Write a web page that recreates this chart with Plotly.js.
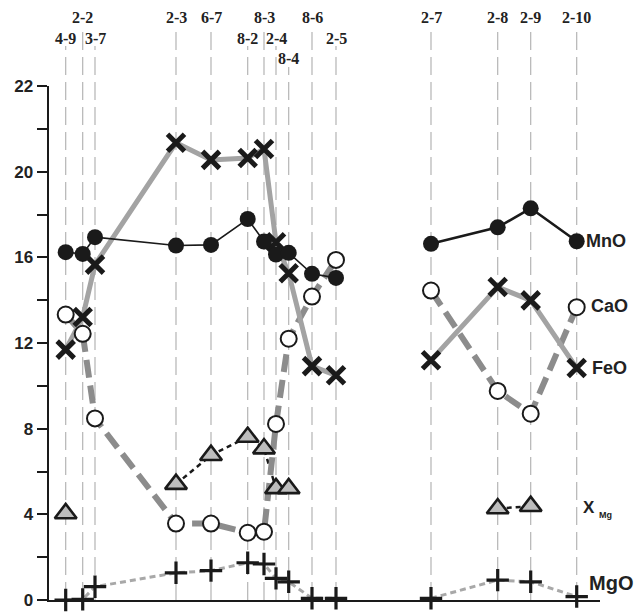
<!DOCTYPE html>
<html>
<head>
<meta charset="utf-8">
<script src="https://cdn.plot.ly/plotly-3.0.1.min.js"></script>
<style>html,body{margin:0;padding:0;background:#fff;}#chart{width:641px;height:612px;}</style>
</head>
<body>
<div id="chart"></div>
<script>
// ---- data ----
const samples   = ['4-9','2-2','3-7','2-3','6-7','8-2','8-3','2-4','8-4','8-6','2-5','2-7','2-8','2-9','2-10'];
const position  = [16.7, 33.7, 46, 127, 162, 198.7, 215, 227, 239.7, 263, 287, 382, 448.7, 481.7, 527.7];
const segment   = [1,1,1,1,1,1,1,1,1,1,1,2,2,2,2];
const labelRow  = [1,0,1,0,0,1,0,1,2,0,1,0,0,0,0];
const mnO = [16.24,16.16,16.94,16.55,16.58,17.79,16.74,16.13,16.21,15.23,15.04,16.63,17.40,18.29,16.75];
const feO = [11.69,13.21,15.66,21.35,20.55,20.64,21.06,16.70,15.26,10.92,10.49,11.19,14.61,13.99,10.83];
const caO = [13.33,12.43,8.48,3.57,3.57,3.14,3.19,8.22,12.20,14.17,15.88,14.45,9.76,8.70,13.67];
const xMg = [4.04,null,null,5.41,6.76,7.61,7.07,5.21,5.21,null,null,null,4.27,4.38,null];
const mgO = [0.00,0.03,0.62,1.27,1.37,1.74,1.68,1.01,0.85,0.08,0.08,0.08,0.93,0.85,0.16];
const yTickVals = [0,2,4,6,8,10,12,14,16,18,20,22,24];
const yTickText = ['0','','4','','8','','12','','16','','20','','22'];
const seriesNames = ['MnO','CaO','FeO','X','MgO'];

// ---- layout helpers ----
const W = 641, H = 612, M = {l:49, r:41, t:86, b:12};
const plotW = W - M.l - M.r, plotH = H - M.t - M.b;
const py = p => (H - M.b - p) / plotH;   // pixel y -> paper y
const px = p => (p - M.l) / plotW;       // pixel x -> paper x

const series = [
  {name:'MgO', y:mgO, line:{color:'#a8a8a8', width:3, dash:'6px,4px'},
   marker:{symbol:'cross-thin', size:16, line:{color:'#1a1a1a', width:3.2}}},
  {name:'XMg', y:xMg, line:{color:'#1a1a1a', width:2.5, dash:'5px,4px'},
   marker:{symbol:'triangle-up', size:19, color:'#bdbdbd', line:{color:'#1a1a1a', width:2.6}}},
  {name:'CaO', y:caO, line:{color:'#8c8c8c', width:6, dash:'18px,8px'},
   marker:{symbol:'circle', size:16, color:'#ffffff', line:{color:'#1a1a1a', width:2}}},
  {name:'FeO', y:feO, line:{color:'#a3a3a3', width:5},
   marker:{symbol:'x-thin', size:17, line:{color:'#1a1a1a', width:5}}},
  {name:'MnO', y:mnO, line:{color:'#1a1a1a', width:1.6},
   marker:{symbol:'circle', size:16, color:'#1a1a1a', line:{width:0}}}
];

const traces = [];
const segs = [1,2];
series.forEach(s => {
  segs.forEach(g => {
    const xs = [], ys = [];
    position.forEach((p,i) => { if (segment[i] === g) { xs.push(p); ys.push(s.y[i]); } });
    const ln = Object.assign({}, s.line);
    if (s.name === 'MnO' && g === 2) ln.width = 2.6;
    traces.push({type:'scatter', mode:'lines', x:xs, y:ys, line:ln, connectgaps:false,
                 hoverinfo:'skip', showlegend:false, cliponaxis:false});
  });
});
series.forEach(s => {
  traces.push({type:'scatter', mode:'markers', x:position, y:s.y, marker:s.marker,
               showlegend:false, cliponaxis:false, name:s.name});
});

// vertical dashed sample lines and top labels
const rowY = [17, 38, 59];
const shapes = [], annotations = [];
samples.forEach((s,i) => {
  shapes.push({type:'line', xref:'x', yref:'paper', x0:position[i], x1:position[i],
    y0:0, y1:py(rowY[labelRow[i]] + 8), layer:'below',
    line:{color:'#b4b4b4', width:1.2, dash:'18px,7px'}});
  annotations.push({xref:'x', yref:'paper', x:position[i], y:py(rowY[labelRow[i]]),
    text:s, showarrow:false, xanchor:'center', yanchor:'middle',
    font:{family:'Liberation Serif', size:16, color:'#222', weight:'bold'}});
});

// series labels at right
const lblFont = {family:'Liberation Sans', size:18, color:'#222', weight:'bold'};
const sideLabels = [
  {text:seriesNames[0], x:584, y:241},
  {text:seriesNames[1], x:589, y:306},
  {text:'FeO', x:590, y:368},
  {text:seriesNames[4], x:587, y:583, size:20}
];
sideLabels.forEach(l => annotations.push({xref:'paper', yref:'paper', x:px(l.x), y:py(l.y),
  text:l.text, showarrow:false, xanchor:'left', yanchor:'middle',
  font:Object.assign({}, lblFont, l.size ? {size:l.size} : {})}));
annotations.push({xref:'paper', yref:'paper', x:px(581), y:py(507), text:seriesNames[3],
  showarrow:false, xanchor:'left', yanchor:'middle', font:Object.assign({}, lblFont, {size:17})});
annotations.push({xref:'paper', yref:'paper', x:px(597), y:py(515), text:'Mg',
  showarrow:false, xanchor:'left', yanchor:'middle', font:Object.assign({}, lblFont, {size:9})});

const layout = {
  width:W, height:H, margin:M, paper_bgcolor:'#fff', plot_bgcolor:'#fff',
  showlegend:false,
  xaxis:{range:[0, plotW], showline:true, linecolor:'#1a1a1a', linewidth:2,
         showgrid:false, zeroline:false, showticklabels:false, ticks:'', fixedrange:true},
  yaxis:{range:[0,24], showline:true, linecolor:'#1a1a1a', linewidth:2.5,
         showgrid:false, zeroline:false, ticks:'outside', ticklen:10, tickwidth:2,
         tickcolor:'#1a1a1a', tickvals:yTickVals, ticktext:yTickText,
         tickfont:{family:'Liberation Sans', size:17, color:'#222', weight:'bold'},
         fixedrange:true},
  shapes:shapes, annotations:annotations
};

Plotly.newPlot('chart', traces, layout, {displayModeBar:false, staticPlot:true});
</script>
</body>
</html>
